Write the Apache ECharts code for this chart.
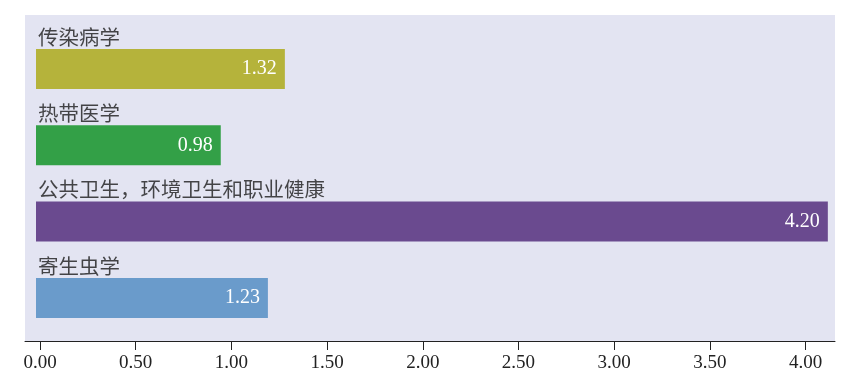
<!DOCTYPE html>
<html><head><meta charset="utf-8">
<script src="https://cdn.jsdelivr.net/npm/echarts@6/dist/echarts.min.js"></script>
<style>html,body{margin:0;padding:0;background:#fff}#c{width:847px;height:389px}</style>
</head><body><div id="c"></div>
<script>
const categories = ['传染病学', '热带医学', '公共卫生，环境卫生和职业健康', '寄生虫学'];
const values = [1.32, 0.98, 4.20, 1.23];
const tickValues = [0, 0.5, 1, 1.5, 2, 2.5, 3, 3.5, 4];
const barColors = ['#b5b33b', '#33a047', '#6a4a8f', '#6a9bcb'];

const chart = echarts.init(document.getElementById('c'));
const serif = '"Liberation Serif", "DejaVu Serif", serif';
chart.setOption({
  animation: false,
  grid: [
    {left: 25, right: 12, top: 15, bottom: 48, show: true, backgroundColor: '#e3e4f2', borderWidth: 0},
    {left: 36, right: 12, top: 30.8, height: 305.3}
  ],
  xAxis: [
    {
      gridIndex: 0, type: 'value', min: -0.0784, max: 4.154, position: 'bottom',
      splitLine: {show: false},
      axisLine: {show: true, onZero: false, lineStyle: {color: '#222', width: 1}},
      axisTick: {show: true, inside: false, length: 9, lineStyle: {color: '#222'}, customValues: tickValues},
      axisLabel: {customValues: tickValues, color: '#222', fontFamily: serif, fontSize: 19, margin: 13,
        formatter: v => v.toFixed(2)}
    },
    {gridIndex: 1, type: 'value', min: 0, max: 4.238, show: false, splitLine: {show: false}}
  ],
  yAxis: [
    {gridIndex: 0, type: 'value', show: false, splitLine: {show: false}},
    {
      gridIndex: 1, type: 'category', data: categories, inverse: true,
      axisLine: {show: false}, axisTick: {show: false}, axisLabel: {show: false}
    }
  ],
  series: [{
    type: 'bar', xAxisIndex: 1, yAxisIndex: 1, barWidth: 40,
    data: values.map((v, i) => ({value: v, itemStyle: {color: barColors[i]}})),
    label: {show: true, position: 'insideRight', distance: 8, color: '#fff', fontFamily: serif, fontSize: 20,
      formatter: p => p.value.toFixed(2)}
  }, {
    type: 'scatter', xAxisIndex: 1, yAxisIndex: 1, symbolSize: 0, silent: true, z: 5,
    data: categories.map(c => [0, c]),
    label: {show: true, position: 'right', distance: 2, offset: [0, -32], color: '#1a1a1a',
      fontFamily: '"Noto Sans CJK SC", sans-serif', fontSize: 20.5,
      formatter: p => p.value[1]}
  }]
});
</script></body></html>
